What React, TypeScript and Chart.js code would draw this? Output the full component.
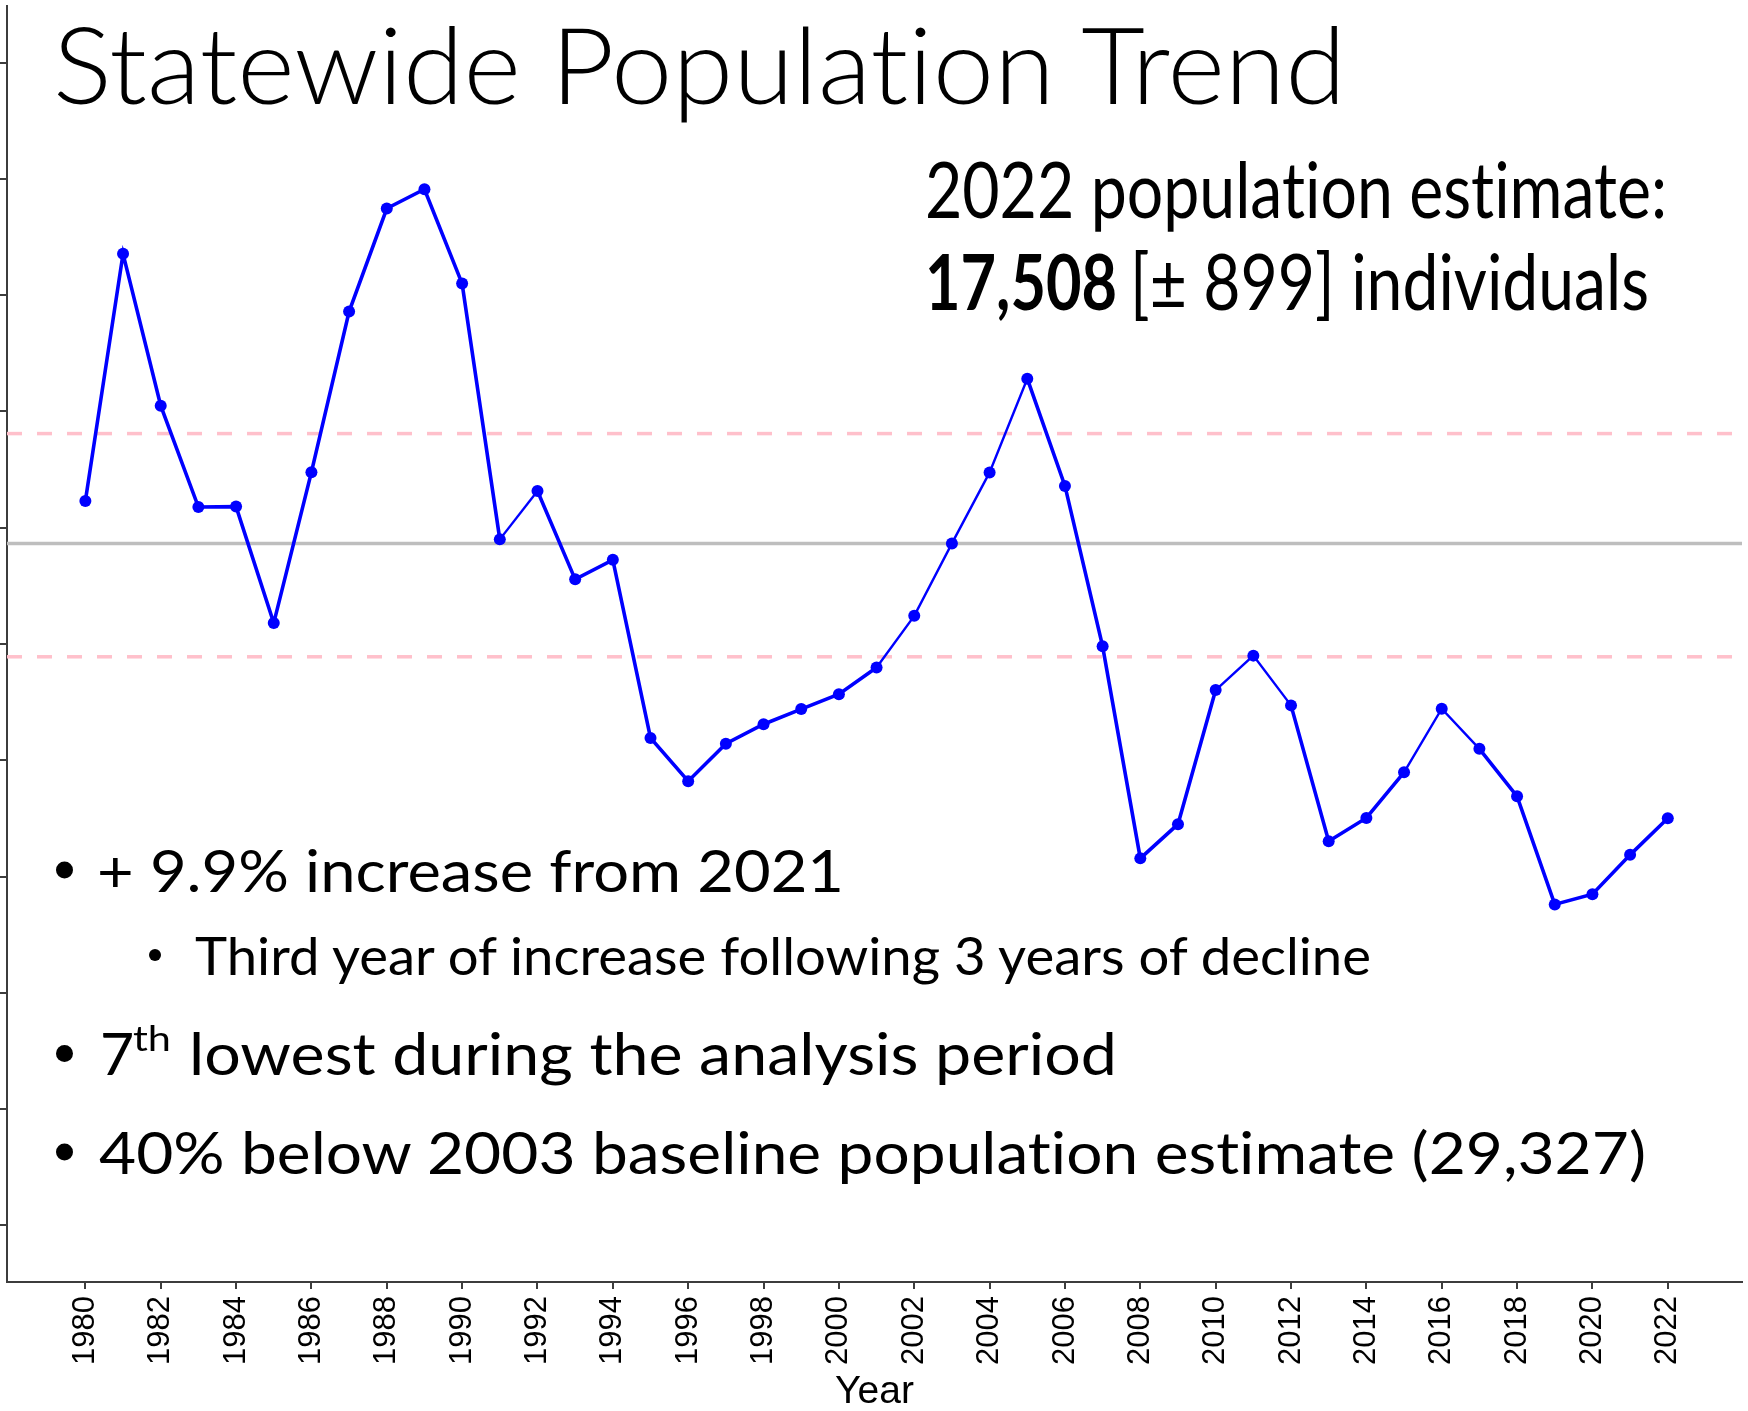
import React, { useEffect, useRef } from "react";
import { Chart, registerables } from "chart.js";

Chart.register(...registerables);

// ---------- data ----------
const years = [
  1980, 1981, 1982, 1983, 1984, 1985, 1986, 1987, 1988, 1989,
  1990, 1991, 1992, 1993, 1994, 1995, 1996, 1997, 1998, 1999,
  2000, 2001, 2002, 2003, 2004, 2005, 2006, 2007, 2008, 2009,
  2010, 2011, 2012, 2013, 2014, 2015, 2016, 2017, 2018, 2019,
  2020, 2021, 2022,
];
const population = [
  31150, 41780, 35250, 30890, 30910, 25900, 32390, 39300, 43730, 44560,
  40500, 29500, 31580, 27780, 28620, 20960, 19100, 20710, 21550, 22200,
  22840, 23990, 26210, 29327, 32380, 36410, 31800, 24900, 15780, 17250,
  23020, 24500, 22360, 16520, 17520, 19480, 22220, 20490, 18450, 13800,
  14240, 15931, 17508,
];
const baselineEstimate = 29327; // 2003 baseline (solid grey)
const upperBand = 34050; // dashed pink
const lowerBand = 24450; // dashed pink
const xTickYears = [
  1980, 1982, 1984, 1986, 1988, 1990, 1992, 1994, 1996, 1998, 2000,
  2002, 2004, 2006, 2008, 2010, 2012, 2014, 2016, 2018, 2020, 2022,
];
const yTickValues = [0, 5000, 10000, 15000, 20000, 25000, 30000, 35000, 40000, 45000, 50000];
const xRange = [1977.92, 2023.97];
const yRange = [-2440, 52440];

// ---------- text ----------
const titleText = "Statewide Population Trend";
const estimateLine1 = "2022 population estimate:";
const estimateBold = "17,508";
const estimateRest = "[± 899] individuals";
const bullet1 = "+ 9.9% increase from 2021";
const subBullet = "Third year of increase following 3 years of decline";
const bullet3Num = "7";
const bullet3Sup = "th";
const bullet3Rest = "lowest during the analysis period";
const bullet4 = "40% below 2003 baseline population estimate (29,327)";

// style only: segments that render thinner in the original image
const thinSegmentStarts = [1991, 2001, 2002, 2003, 2004, 2010, 2011, 2015, 2016];

const W = 1748;
const H = 1411;

function TextLine(props: {
  x: number;
  y: number;
  size: number;
  len?: number;
  weight?: number | string;
  children: string;
}) {
  const { x, y, size, len, weight, children } = props;
  const extra: any = len ? { textLength: len, lengthAdjust: "spacingAndGlyphs" } : {};
  return (
    <text
      x={x}
      y={y}
      fontSize={size}
      fontWeight={weight ?? 400}
      style={{ fontVariantLigatures: "none", fontFeatureSettings: '"liga" 0, "dlig" 0' }}
      {...extra}
    >
      {children}
    </text>
  );
}

export default function App() {
  const canvasRef = useRef<HTMLCanvasElement | null>(null);

  useEffect(() => {
    const canvas = canvasRef.current;
    if (!canvas) return;
    const axisColor = "#3c3c3c";
    const chart = new Chart(canvas, {
      type: "line",
      data: {
        datasets: [
          {
            data: years.map((yr, i) => ({ x: yr, y: population[i] })),
            borderColor: "#0000FF",
            backgroundColor: "#0000FF",
            pointBackgroundColor: "#0000FF",
            pointBorderWidth: 0,
            pointRadius: 6,
            borderWidth: 3.6,
            tension: 0,
            segment: {
              borderWidth: (ctx: any) =>
                thinSegmentStarts.includes(years[ctx.p0DataIndex]) ? 2.4 : 3.6,
            },
          } as any,
          {
            data: xRange.map((x) => ({ x, y: baselineEstimate })),
            borderColor: "#BEBEBE",
            borderWidth: 3.5,
            pointRadius: 0,
          },
          {
            data: xRange.map((x) => ({ x, y: upperBand })),
            borderColor: "#FFC0CB",
            borderWidth: 3.5,
            borderDash: [15, 15],
            pointRadius: 0,
          },
          {
            data: xRange.map((x) => ({ x, y: lowerBand })),
            borderColor: "#FFC0CB",
            borderWidth: 3.5,
            borderDash: [15, 15],
            pointRadius: 0,
          },
        ],
      },
      options: {
        animation: false,
        responsive: false,
        devicePixelRatio: 1,
        layout: { padding: 0 },
        plugins: {
          legend: { display: false },
          tooltip: { enabled: false },
        },
        scales: {
          x: {
            type: "linear",
            min: xRange[0],
            max: xRange[1],
            bounds: "data",
            afterBuildTicks: (s: any) => {
              s.ticks = xTickYears.map((v) => ({ value: v }));
            },
            afterFit: (s: any) => {
              s.height = 129;
            },
            grid: {
              drawOnChartArea: false,
              drawTicks: true,
              tickLength: 7,
              color: axisColor,
              lineWidth: 2,
            },
            border: { display: true, color: axisColor, width: 2 },
            ticks: {
              autoSkip: false,
              minRotation: 90,
              maxRotation: 90,
              padding: 7,
              color: "#000000",
              font: { family: "Liberation Sans", size: 31 },
              callback: (v: any) => String(v),
            },
            title: {
              display: true,
              text: "Year",
              color: "#000000",
              font: { family: "Liberation Sans", size: 39, lineHeight: 1 },
              padding: { top: 0, bottom: -1 },
            },
          },
          y: {
            type: "linear",
            min: yRange[0],
            max: yRange[1],
            bounds: "data",
            afterBuildTicks: (s: any) => {
              s.ticks = yTickValues.map((v) => ({ value: v }));
            },
            afterFit: (s: any) => {
              s.width = 7;
            },
            grid: {
              drawOnChartArea: false,
              drawTicks: true,
              tickLength: 7,
              color: axisColor,
              lineWidth: 2,
            },
            border: { display: true, color: axisColor, width: 2 },
            ticks: { display: false },
          },
        },
      } as any,
    });
    return () => chart.destroy();
  }, []);

  return (
    <div
      style={{
        position: "absolute",
        left: 0,
        top: 0,
        width: W,
        height: H,
        overflow: "hidden",
        background: "#ffffff",
      }}
    >
      <canvas
        ref={canvasRef}
        width={W}
        height={H}
        style={{ position: "absolute", left: 0, top: 0, width: W, height: H }}
      />
      <svg
        width={W}
        height={H}
        style={{ position: "absolute", left: 0, top: 0, pointerEvents: "none" }}
        fontFamily="Lato, 'Open Sans', sans-serif"
        fill="#000000"
      >
        <TextLine x={53} y={104} size={106} len={1293} weight={300}>
          {titleText}
        </TextLine>

        <TextLine x={925} y={218} size={77} len={742}>
          {estimateLine1}
        </TextLine>
        <TextLine x={925} y={310} size={77} len={192} weight={700}>
          {estimateBold}
        </TextLine>
        <TextLine x={1130} y={310} size={77} len={519}>
          {estimateRest}
        </TextLine>

        <circle cx={64.5} cy={870} r={8.5} />
        <TextLine x={97} y={892} size={58} len={747}>
          {bullet1}
        </TextLine>

        <circle cx={155} cy={955} r={6} />
        <TextLine x={195} y={975} size={53} len={1176}>
          {subBullet}
        </TextLine>

        <circle cx={64.5} cy={1053.5} r={8.5} />
        <TextLine x={100} y={1075} size={59}>
          {bullet3Num}
        </TextLine>
        <TextLine x={133} y={1051} size={35} len={38}>
          {bullet3Sup}
        </TextLine>
        <TextLine x={189} y={1075} size={58} len={928}>
          {bullet3Rest}
        </TextLine>

        <circle cx={64.5} cy={1152} r={8.5} />
        <TextLine x={99} y={1174} size={59} len={1547}>
          {bullet4}
        </TextLine>
      </svg>
    </div>
  );
}
